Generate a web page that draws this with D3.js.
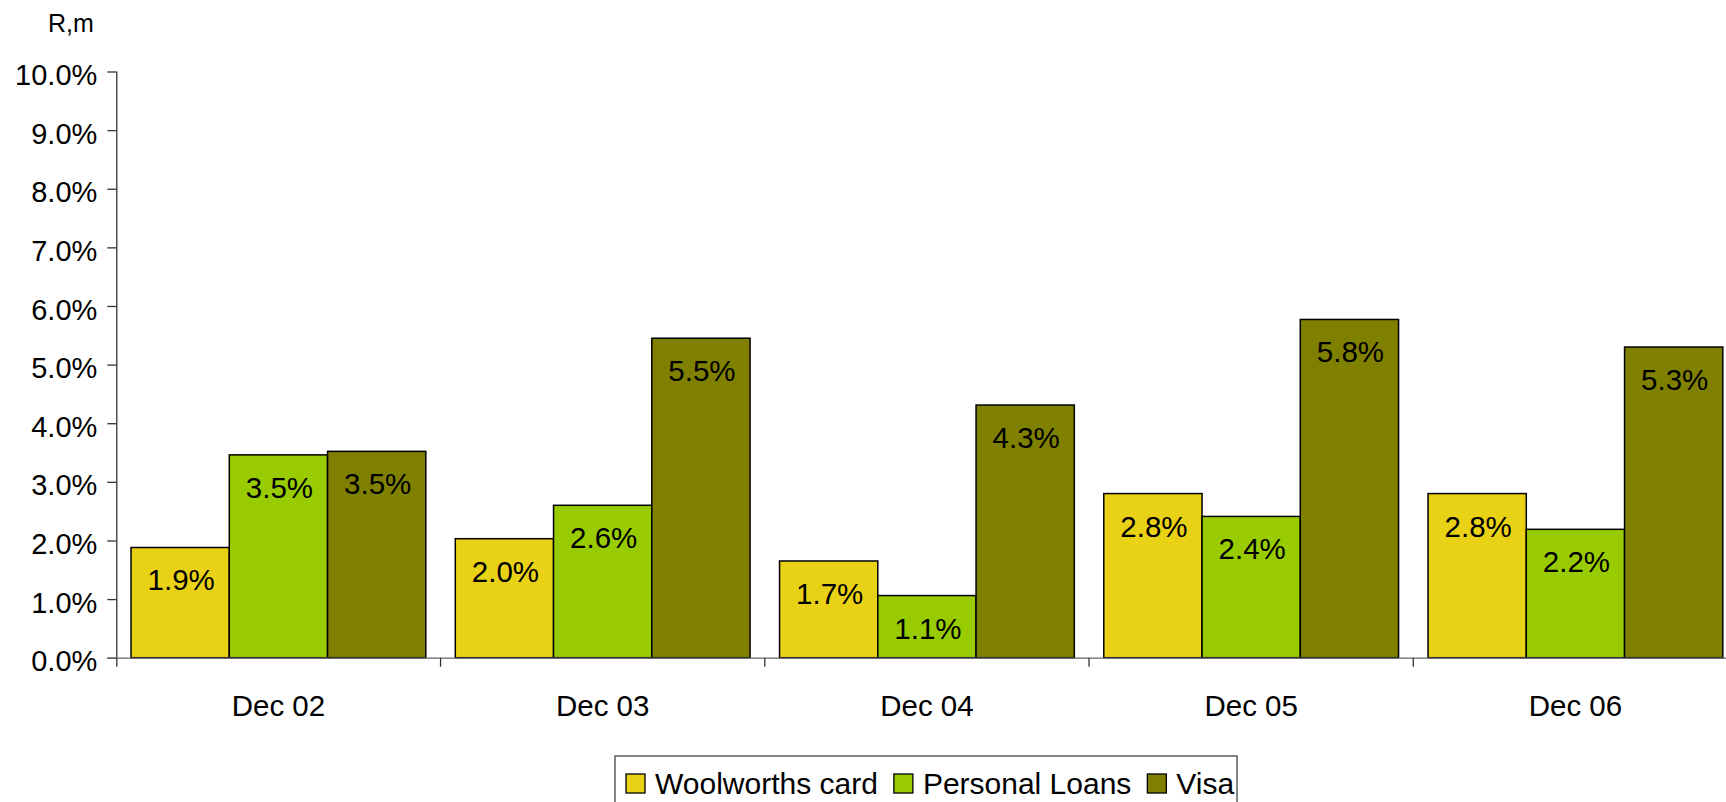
<!DOCTYPE html>
<html lang="en">

<head>
  <meta charset="UTF-8">
  <title>Bad debts by product</title>
  <style>
    body {
      margin: 0;
      background-color: white;
    }

    svg {
      display: block;
      font-family: "Liberation Sans", Arial, sans-serif;
    }

    .bar {
      stroke: black;
      stroke-width: 1.5px;
    }
  </style>
</head>

<body>
  <svg width="1726" height="802"></svg>

  <script src="https://d3js.org/d3.v7.min.js"></script>
  <script>
    const categories = ["Dec 02", "Dec 03", "Dec 04", "Dec 05", "Dec 06"];
    const seriesNames = ["Woolworths card", "Personal Loans", "Visa"];
    const woolworthsCard = [0.0188, 0.0203, 0.0165, 0.0280, 0.0280];
    const personalLoans = [0.0346, 0.0260, 0.0106, 0.0241, 0.0219];
    const visa = [0.0352, 0.0545, 0.0431, 0.0577, 0.0530];
    const barLabels = [
      ["1.9%", "2.0%", "1.7%", "2.8%", "2.8%"],
      ["3.5%", "2.6%", "1.1%", "2.4%", "2.2%"],
      ["3.5%", "5.5%", "4.3%", "5.8%", "5.3%"]
    ];
    const yTicks = [0, 0.01, 0.02, 0.03, 0.04, 0.05, 0.06, 0.07, 0.08, 0.09, 0.10];
    const colors = ["#E9D116", "#99CC00", "#808000"];

    const allSeries = [woolworthsCard, personalLoans, visa];

    const chartWidth = 1726;
    const plotLeft = 116.3;
    const plotBottom = 657.7;
    const plotTop = 71.5;
    const step = 324.25;

    const svg = d3.select("svg");

    const y = d3.scaleLinear()
      .domain([0, 0.10])
      .range([plotBottom, plotTop]);

    // plot area runs off the right edge, like the original
    const x0 = d3.scaleBand()
      .domain(categories)
      .range([plotLeft, plotLeft + step * categories.length])
      .padding(0);

    const x1 = d3.scaleBand()
      .domain(seriesNames)
      .range([0, x0.bandwidth()])
      .paddingInner(0)
      .paddingOuter(0.15);

    // flatten for the bars
    let rows = [];
    categories.forEach((c, i) => {
      seriesNames.forEach((s, j) => {
        rows.push({ cat: c, series: s, value: allSeries[j][i], label: barLabels[j][i], color: colors[j] });
      });
    });

    // y axis
    const yAxis = svg.append("g")
      .attr("transform", "translate(" + plotLeft + ",0)")
      .call(d3.axisLeft(y)
        .tickValues(yTicks)
        .tickSize(9)
        .tickSizeOuter(0)
        .tickPadding(10)
        .tickFormat(d3.format(".1%")));

    yAxis.select(".domain").attr("stroke", "#333").attr("stroke-width", 1.3)
      .attr("d", "M0.5," + plotTop + "V" + (plotBottom + 9));
    yAxis.selectAll(".tick line").attr("stroke", "#333").attr("stroke-width", 1.3);
    yAxis.selectAll(".tick text")
      .style("font-size", "29px")
      .attr("fill", "black")
      .attr("dy", "0.45em");

    // bars
    const bars = svg.append("g")
      .selectAll("g")
      .data(rows)
      .enter()
      .append("g")
      .attr("transform", (d) => "translate(" + (x0(d.cat) + x1(d.series)) + ",0)");

    bars.append("rect")
      .attr("class", "bar")
      .attr("x", 0)
      .attr("y", (d) => y(d.value))
      .attr("width", x1.bandwidth())
      .attr("height", (d) => y(0) - y(d.value))
      .attr("fill", (d) => d.color);

    bars.append("text")
      .attr("x", x1.bandwidth() / 2 + 1)
      .attr("y", (d) => y(d.value) + 43)
      .attr("text-anchor", "middle")
      .style("font-size", "29.5px")
      .text((d) => d.label);

    // x axis
    const xAxis = svg.append("g")
      .attr("transform", "translate(0," + plotBottom + ")")
      .call(d3.axisBottom(x0).tickSize(0).tickSizeOuter(0));

    xAxis.select(".domain").attr("stroke", "#666").attr("stroke-width", 1.3)
      .attr("d", "M" + (plotLeft - 9) + ",0.5H" + chartWidth);
    xAxis.selectAll(".tick text")
      .attr("y", 58.3)
      .attr("dy", 0)
      .attr("fill", "black")
      .style("font-size", "29.5px");

    // tick marks between categories
    xAxis.selectAll(".sep")
      .data(categories.slice(1))
      .enter()
      .append("line")
      .attr("class", "sep")
      .attr("x1", (d) => x0(d))
      .attr("x2", (d) => x0(d))
      .attr("y1", 0)
      .attr("y2", 9)
      .attr("stroke", "#333")
      .attr("stroke-width", 1.3);

    // unit label
    svg.append("text")
      .attr("x", 48)
      .attr("y", 32)
      .style("font-size", "25px")
      .text("R,m");

    // legend
    const legend = svg.append("g");

    legend.append("rect")
      .attr("x", 615)
      .attr("y", 756)
      .attr("width", 622)
      .attr("height", 70)
      .attr("fill", "white")
      .attr("stroke", "#444")
      .attr("stroke-width", 1.3);

    let lx = 626;
    seriesNames.forEach((s, i) => {
      legend.append("rect")
        .attr("x", lx)
        .attr("y", 774)
        .attr("width", 19)
        .attr("height", 19)
        .attr("fill", colors[i])
        .attr("stroke", "black")
        .attr("stroke-width", 1.3);
      const t = legend.append("text")
        .attr("x", lx + 29)
        .attr("y", 794)
        .style("font-size", "30px")
        .text(s);
      lx = lx + 29 + t.node().getComputedTextLength() + 16;
    });
  </script>
</body>

</html>
